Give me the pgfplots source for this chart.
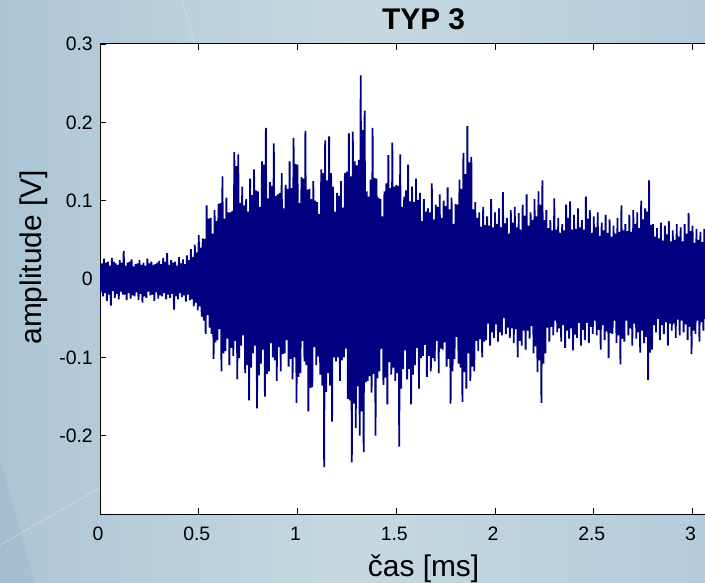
\documentclass[border=0pt]{standalone}
\usepackage{pgfplots}
\pgfplotsset{compat=1.18}
\usepackage{fontspec}
\setmainfont{Liberation Sans}
\definecolor{sig}{RGB}{0,0,128}
\definecolor{bgL}{RGB}{172,197,214}
\definecolor{bgM}{RGB}{198,217,225}
\definecolor{bgR}{RGB}{180,203,219}
\definecolor{bgD}{RGB}{160,186,207}
\begin{document}
\begin{tikzpicture}
\useasboundingbox (0,0) rectangle (705bp,583bp);
\clip (0,0) rectangle (705bp,583bp);
\shade[left color=bgL, right color=bgR, middle color=bgM] (0,0) rectangle (705bp,583bp);
\fill[bgD, opacity=0.6] (0,0) -- (0,123bp) -- (35bp,0) -- cycle;
\draw[white, opacity=0.35, line width=0.6bp] (0,38bp) -- (100bp,95bp);
\draw[white, opacity=0.35, line width=0.6bp] (182bp,583bp) -- (200bp,520bp);
\begin{axis}[
  at={(100bp,69bp)}, anchor=south west,
  scale only axis, width=647.2bp, height=470bp,
  xmin=0, xmax=3.2768, ymin=-0.3, ymax=0.3,
  axis background/.style={fill=white},
  axis line style={black, line width=1bp},
  tick align=inside, major tick length=6bp,
  tick style={black, line width=0.6bp},
  xtick={0,0.5,1,1.5,2,2.5,3},
  xticklabels={0,0.5,1,1.5,2,2.5,3},
  ytick={-0.2,-0.1,0,0.1,0.2,0.3},
  yticklabels={-0.2,-0.1,0,0.1,0.2,0.3},
  /pgf/number format/assume math mode=true,
  xticklabel style={font=\fontsize{19.5}{23}\selectfont, anchor=base, yshift=-26bp, xshift=-2bp},
  yticklabel style={font=\fontsize{19.5}{23}\selectfont, anchor=east, inner sep=0pt, xshift=-7bp},
  title={\bfseries TYP 3},
  title style={font=\fontsize{30}{36}\selectfont, at={(axis description cs:0.5,1.019)}, anchor=base},
  xlabel={čas [ms]},
  xlabel style={font=\fontsize{30}{36}\selectfont, at={(axis description cs:0.5,-0.132)}, anchor=base},
  ylabel={amplitude [V]},
  ylabel style={font=\fontsize{30}{36}\selectfont, at={(axis description cs:-0.091,0.546)}, anchor=base},
]
\addplot[sig, line width=1.8bp, line join=bevel] coordinates {
(0.000,0.018) (0.005,-0.016) (0.010,0.020) (0.015,-0.022)
(0.020,0.026) (0.025,-0.018) (0.030,0.021) (0.035,-0.028)
(0.040,0.022) (0.045,-0.020) (0.050,0.017) (0.055,-0.034)
(0.060,0.027) (0.065,-0.015) (0.070,0.022) (0.075,-0.024)
(0.080,0.020) (0.085,-0.019) (0.090,0.018) (0.095,-0.026)
(0.100,0.024) (0.105,-0.016) (0.110,0.021) (0.115,-0.020)
(0.120,0.036) (0.125,-0.020) (0.130,0.017) (0.135,-0.027)
(0.140,0.021) (0.145,-0.018) (0.150,0.022) (0.155,-0.025)
(0.160,0.025) (0.165,-0.021) (0.170,0.016) (0.175,-0.022)
(0.180,0.019) (0.185,-0.017) (0.190,0.020) (0.195,-0.027)
(0.200,0.024) (0.205,-0.019) (0.210,0.018) (0.215,-0.030)
(0.220,0.021) (0.225,-0.022) (0.230,0.017) (0.235,-0.024)
(0.240,0.026) (0.245,-0.016) (0.250,0.020) (0.255,-0.021)
(0.260,0.022) (0.265,-0.020) (0.270,0.018) (0.275,-0.028)
(0.280,0.019) (0.285,-0.017) (0.290,0.021) (0.295,-0.025)
(0.300,0.023) (0.305,-0.021) (0.310,0.019) (0.315,-0.022)
(0.320,0.027) (0.325,-0.018) (0.330,0.022) (0.335,-0.026)
(0.340,0.033) (0.345,-0.020) (0.350,0.018) (0.355,-0.024)
(0.360,0.024) (0.365,-0.019) (0.370,0.021) (0.375,-0.039)
(0.380,0.022) (0.385,-0.022) (0.390,0.017) (0.395,-0.026)
(0.400,0.028) (0.405,-0.018) (0.410,0.020) (0.415,-0.023)
(0.420,0.025) (0.425,-0.021) (0.430,0.019) (0.435,-0.029)
(0.440,0.030) (0.445,-0.020) (0.450,0.024) (0.455,-0.027)
(0.460,0.038) (0.465,-0.026) (0.470,0.028) (0.475,-0.035)
(0.480,0.044) (0.485,-0.030) (0.490,0.034) (0.495,-0.040)
(0.500,0.056) (0.505,-0.035) (0.510,0.040) (0.515,-0.048)
(0.520,0.052) (0.525,-0.053) (0.530,0.051) (0.535,-0.070)
(0.540,0.094) (0.545,-0.046) (0.550,0.077) (0.555,-0.062)
(0.560,0.078) (0.565,-0.070) (0.570,0.058) (0.575,-0.102)
(0.580,0.088) (0.585,-0.081) (0.590,0.074) (0.595,-0.078)
(0.600,0.096) (0.605,-0.064) (0.610,0.097) (0.615,-0.118)
(0.620,0.131) (0.625,-0.095) (0.630,0.077) (0.635,-0.092)
(0.640,0.104) (0.645,-0.076) (0.650,0.085) (0.655,-0.110)
(0.660,0.085) (0.665,-0.088) (0.670,0.087) (0.675,-0.098)
(0.680,0.162) (0.685,-0.079) (0.690,0.144) (0.695,-0.128)
(0.700,0.159) (0.705,-0.101) (0.710,0.097) (0.715,-0.085)
(0.720,0.118) (0.725,-0.072) (0.730,0.094) (0.735,-0.120)
(0.740,0.102) (0.745,-0.110) (0.750,0.086) (0.755,-0.155)
(0.760,0.128) (0.765,-0.113) (0.770,0.107) (0.775,-0.095)
(0.780,0.140) (0.785,-0.085) (0.790,0.113) (0.795,-0.165)
(0.800,0.112) (0.805,-0.123) (0.810,0.092) (0.815,-0.108)
(0.820,0.150) (0.825,-0.090) (0.830,0.146) (0.835,-0.150)
(0.840,0.193) (0.845,-0.121) (0.850,0.103) (0.855,-0.118)
(0.860,0.124) (0.865,-0.082) (0.870,0.119) (0.875,-0.100)
(0.880,0.173) (0.885,-0.104) (0.890,0.106) (0.895,-0.130)
(0.900,0.108) (0.905,-0.087) (0.910,0.110) (0.915,-0.118)
(0.920,0.135) (0.925,-0.096) (0.930,0.090) (0.935,-0.095)
(0.940,0.120) (0.945,-0.078) (0.950,0.115) (0.955,-0.112)
(0.960,0.150) (0.965,-0.102) (0.970,0.116) (0.975,-0.128)
(0.980,0.180) (0.985,-0.100) (0.990,0.147) (0.995,-0.158)
(1.000,0.146) (1.005,-0.125) (1.010,0.097) (1.015,-0.120)
(1.020,0.130) (1.025,-0.079) (1.030,0.128) (1.035,-0.105)
(1.040,0.189) (1.045,-0.110) (1.050,0.114) (1.055,-0.169)
(1.060,0.115) (1.065,-0.139) (1.070,0.102) (1.075,-0.138)
(1.080,0.125) (1.085,-0.087) (1.090,0.100) (1.095,-0.110)
(1.100,0.098) (1.105,-0.099) (1.110,0.083) (1.115,-0.122)
(1.120,0.140) (1.125,-0.136) (1.130,0.135) (1.135,-0.240)
(1.140,0.177) (1.145,-0.144) (1.150,0.126) (1.155,-0.120)
(1.160,0.182) (1.165,-0.136) (1.170,0.135) (1.175,-0.182)
(1.180,0.118) (1.185,-0.100) (1.190,0.086) (1.195,-0.105)
(1.200,0.110) (1.205,-0.100) (1.210,0.106) (1.215,-0.130)
(1.220,0.125) (1.225,-0.104) (1.230,0.091) (1.235,-0.100)
(1.240,0.135) (1.245,-0.089) (1.250,0.137) (1.255,-0.153)
(1.260,0.186) (1.265,-0.155) (1.270,0.131) (1.275,-0.234)
(1.280,0.188) (1.285,-0.159) (1.290,0.150) (1.295,-0.190)
(1.300,0.145) (1.305,-0.137) (1.310,0.152) (1.315,-0.200)
(1.320,0.260) (1.325,-0.169) (1.330,0.190) (1.335,-0.221)
(1.340,0.215) (1.345,-0.132) (1.350,0.112) (1.355,-0.130)
(1.360,0.105) (1.365,-0.124) (1.370,0.127) (1.375,-0.145)
(1.380,0.193) (1.385,-0.121) (1.390,0.129) (1.395,-0.200)
(1.400,0.128) (1.405,-0.127) (1.410,0.104) (1.415,-0.118)
(1.420,0.102) (1.425,-0.089) (1.430,0.080) (1.435,-0.135)
(1.440,0.112) (1.445,-0.126) (1.450,0.122) (1.455,-0.160)
(1.460,0.158) (1.465,-0.106) (1.470,0.116) (1.475,-0.122)
(1.480,0.174) (1.485,-0.113) (1.490,0.118) (1.495,-0.130)
(1.500,0.120) (1.505,-0.120) (1.510,0.119) (1.515,-0.214)
(1.520,0.159) (1.525,-0.140) (1.530,0.092) (1.535,-0.115)
(1.540,0.105) (1.545,-0.091) (1.550,0.113) (1.555,-0.128)
(1.560,0.146) (1.565,-0.115) (1.570,0.099) (1.575,-0.160)
(1.580,0.118) (1.585,-0.122) (1.590,0.098) (1.595,-0.110)
(1.600,0.128) (1.605,-0.088) (1.610,0.101) (1.615,-0.140)
(1.620,0.110) (1.625,-0.101) (1.630,0.074) (1.635,-0.098)
(1.640,0.102) (1.645,-0.084) (1.650,0.086) (1.655,-0.125)
(1.660,0.090) (1.665,-0.098) (1.670,0.085) (1.675,-0.118)
(1.680,0.122) (1.685,-0.101) (1.690,0.076) (1.695,-0.105)
(1.700,0.095) (1.705,-0.079) (1.710,0.092) (1.715,-0.120)
(1.720,0.108) (1.725,-0.089) (1.730,0.078) (1.735,-0.090)
(1.740,0.100) (1.745,-0.081) (1.750,0.093) (1.755,-0.112)
(1.760,0.117) (1.765,-0.102) (1.770,0.089) (1.775,-0.159)
(1.780,0.104) (1.785,-0.118) (1.790,0.070) (1.795,-0.102)
(1.800,0.096) (1.805,-0.074) (1.810,0.095) (1.815,-0.108)
(1.820,0.127) (1.825,-0.113) (1.830,0.115) (1.835,-0.157)
(1.840,0.161) (1.845,-0.119) (1.850,0.134) (1.855,-0.140)
(1.860,0.195) (1.865,-0.095) (1.870,0.149) (1.875,-0.130)
(1.880,0.156) (1.885,-0.112) (1.890,0.089) (1.895,-0.118)
(1.900,0.098) (1.905,-0.079) (1.910,0.078) (1.915,-0.092)
(1.920,0.085) (1.925,-0.077) (1.930,0.067) (1.935,-0.100)
(1.940,0.092) (1.945,-0.080) (1.950,0.069) (1.955,-0.078)
(1.960,0.080) (1.965,-0.057) (1.970,0.068) (1.975,-0.085)
(1.980,0.102) (1.985,-0.068) (1.990,0.066) (1.995,-0.075)
(2.000,0.085) (2.005,-0.058) (2.010,0.070) (2.015,-0.080)
(2.020,0.090) (2.025,-0.068) (2.030,0.066) (2.035,-0.072)
(2.040,0.111) (2.045,-0.050) (2.050,0.071) (2.055,-0.070)
(2.060,0.078) (2.065,-0.062) (2.070,0.058) (2.075,-0.075)
(2.080,0.088) (2.085,-0.063) (2.090,0.072) (2.095,-0.082)
(2.100,0.092) (2.105,-0.064) (2.110,0.066) (2.115,-0.100)
(2.120,0.084) (2.125,-0.079) (2.130,0.063) (2.135,-0.085)
(2.140,0.095) (2.145,-0.066) (2.150,0.081) (2.155,-0.090)
(2.160,0.108) (2.165,-0.066) (2.170,0.068) (2.175,-0.076)
(2.180,0.085) (2.185,-0.060) (2.190,0.075) (2.195,-0.095)
(2.200,0.102) (2.205,-0.086) (2.210,0.080) (2.215,-0.119)
(2.220,0.112) (2.225,-0.104) (2.230,0.095) (2.235,-0.158)
(2.240,0.126) (2.245,-0.108) (2.250,0.075) (2.255,-0.095)
(2.260,0.088) (2.265,-0.062) (2.270,0.065) (2.275,-0.080)
(2.280,0.075) (2.285,-0.061) (2.290,0.062) (2.295,-0.072)
(2.300,0.103) (2.305,-0.053) (2.310,0.063) (2.315,-0.068)
(2.320,0.078) (2.325,-0.063) (2.330,0.059) (2.335,-0.080)
(2.340,0.070) (2.345,-0.059) (2.350,0.062) (2.355,-0.088)
(2.360,0.095) (2.365,-0.066) (2.370,0.078) (2.375,-0.076)
(2.380,0.099) (2.385,-0.063) (2.390,0.063) (2.395,-0.091)
(2.400,0.082) (2.405,-0.071) (2.410,0.064) (2.415,-0.075)
(2.420,0.090) (2.425,-0.056) (2.430,0.066) (2.435,-0.085)
(2.440,0.075) (2.445,-0.065) (2.450,0.063) (2.455,-0.078)
(2.460,0.105) (2.465,-0.056) (2.470,0.077) (2.475,-0.082)
(2.480,0.088) (2.485,-0.061) (2.490,0.059) (2.495,-0.070)
(2.500,0.080) (2.505,-0.053) (2.510,0.066) (2.515,-0.072)
(2.520,0.085) (2.525,-0.065) (2.530,0.055) (2.535,-0.090)
(2.540,0.072) (2.545,-0.059) (2.550,0.062) (2.555,-0.078)
(2.560,0.082) (2.565,-0.067) (2.570,0.059) (2.575,-0.101)
(2.580,0.076) (2.585,-0.069) (2.590,0.054) (2.595,-0.070)
(2.600,0.068) (2.605,-0.053) (2.610,0.058) (2.615,-0.082)
(2.620,0.078) (2.625,-0.072) (2.630,0.060) (2.635,-0.109)
(2.640,0.094) (2.645,-0.076) (2.650,0.062) (2.655,-0.080)
(2.660,0.070) (2.665,-0.053) (2.670,0.061) (2.675,-0.072)
(2.680,0.082) (2.685,-0.063) (2.690,0.060) (2.695,-0.085)
(2.700,0.088) (2.705,-0.057) (2.710,0.070) (2.715,-0.076)
(2.720,0.085) (2.725,-0.068) (2.730,0.065) (2.735,-0.094)
(2.740,0.100) (2.745,-0.066) (2.750,0.076) (2.755,-0.082)
(2.760,0.090) (2.765,-0.074) (2.770,0.086) (2.775,-0.129)
(2.780,0.126) (2.785,-0.094) (2.790,0.069) (2.795,-0.090)
(2.800,0.070) (2.805,-0.059) (2.810,0.054) (2.815,-0.068)
(2.820,0.065) (2.825,-0.051) (2.830,0.052) (2.835,-0.078)
(2.840,0.072) (2.845,-0.059) (2.850,0.049) (2.855,-0.070)
(2.860,0.068) (2.865,-0.055) (2.870,0.057) (2.875,-0.085)
(2.880,0.074) (2.885,-0.057) (2.890,0.048) (2.895,-0.066)
(2.900,0.062) (2.905,-0.057) (2.910,0.050) (2.915,-0.075)
(2.920,0.070) (2.925,-0.052) (2.930,0.054) (2.935,-0.072)
(2.940,0.066) (2.945,-0.053) (2.950,0.048) (2.955,-0.068)
(2.960,0.070) (2.965,-0.058) (2.970,0.058) (2.975,-0.078)
(2.980,0.084) (2.985,-0.061) (2.990,0.061) (2.995,-0.096)
(3.000,0.068) (3.005,-0.066) (3.010,0.046) (3.015,-0.070)
(3.020,0.064) (3.025,-0.053) (3.030,0.050) (3.035,-0.080)
(3.040,0.060) (3.045,-0.055) (3.050,0.047) (3.055,-0.066)
(3.060,0.064) (3.065,-0.051) (3.070,0.043) (3.075,-0.062)
(3.080,0.058) (3.085,-0.046) (3.090,0.050) (3.095,-0.060)
};
\end{axis}
\end{tikzpicture}
\end{document}
